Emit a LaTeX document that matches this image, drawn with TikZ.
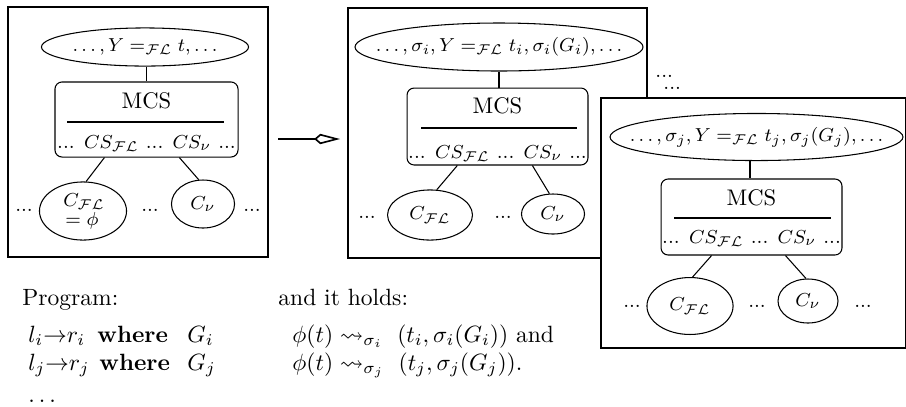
\documentclass[tikz,border=0pt]{standalone}
\usepackage{amssymb}
\usetikzlibrary{shapes.geometric,arrows.meta}
\tikzset{
  frame/.style={draw, line width=0.45pt, fill=white},
  oval/.style={draw, ellipse, inner sep=0pt, line width=0.45pt},
  mcsbox/.style={draw, rounded corners=3pt, inner sep=0pt, line width=0.45pt},
  lbl/.style={inner sep=0pt, font=\fontsize{8.4}{10}\selectfont},
  mcslbl/.style={inner sep=0pt, anchor=base, font=\fontsize{9.6}{11}\selectfont},
  txt/.style={inner sep=0pt, anchor=base west, font=\fontsize{10}{12}\selectfont},
  link/.style={line width=0.45pt},
  rulethin/.style={line width=0.45pt},
  rulethick/.style={line width=0.9pt},
}
\begin{document}
\begin{tikzpicture}[x=0.425pt,y=-0.425pt]
\useasboundingbox (0,0) rectangle (906,406);

% ---------- Box 1 ----------
\draw[frame] (8,7) rectangle (268,257);
\node[oval, minimum width=88pt, minimum height=16.2pt] (e1) at (145,47) {};
\node[lbl] at (e1) {$\ldots, Y =_{\mathcal{F}\mathcal{L}} t, \ldots$};
\node[mcsbox, minimum width=77.8pt, minimum height=31.9pt] (m1) at (146.5,119.5) {};
\node[mcslbl] at (146.5,108) {MCS};
\draw[rulethin] (67,122) -- (224,122);
\node[lbl, anchor=base] at (146.5,148) {... $CS_{\mathcal{F}\mathcal{L}}$ ... $CS_\nu$ ...};
\node[oval, minimum width=37pt, minimum height=24.7pt] (c1) at (83,211) {};
\node[lbl, anchor=base west] at (63,206) {$C_{\mathcal{F}\mathcal{L}}$};
\node[lbl, anchor=base west] at (65,225) {$=\phi$};
\node[oval, minimum width=26.8pt, minimum height=20.4pt] (v1) at (203,204) {};
\node[lbl] at (v1) {$C_\nu$};
\node[lbl] (d1a) at (24,210) {...};
\node[lbl] (d1b) at (150,210) {...};
\node[lbl] (d1c) at (252,210) {...};
\draw[link] (m1.north |- e1.south) -- (m1.north);
\draw[link] ([xshift=21.25pt]m1.south west) -- (c1.84);
\draw[link] ([xshift=53.1pt]m1.south west) -- (v1.100);

% ---------- Arrow ----------
\coordinate (a0) at (278,139);
\coordinate (a1) at (340,139);
\draw[line width=0.7pt, -{Kite[open, length=11pt, width=4.4pt, inset=2.6pt]}] (a0) -- (a1);

% ---------- Box 2 ----------
\draw[frame] (348,8) rectangle (647,258);
\node[oval, minimum width=122.4pt, minimum height=20.4pt] (e2) at (499,47) {};
\node[lbl] at (e2) {$\ldots, \sigma_i, Y =_{\mathcal{F}\mathcal{L}} t_i, \sigma_i(G_i), \ldots$};
\node[mcsbox, minimum width=76.9pt, minimum height=32.7pt] (m2) at (497.5,126.5) {};
\node[mcslbl] at (497.5,113) {MCS};
\draw[rulethick] (421,128) -- (577,128);
\node[lbl, anchor=base] at (497.5,158) {... $CS_{\mathcal{F}\mathcal{L}}$ ... $CS_\nu$ ...};
\node[oval, minimum width=36.1pt, minimum height=21.3pt] (c2) at (430,215) {};
\node[lbl] at (c2) {$C_{\mathcal{F}\mathcal{L}}$};
\node[oval, minimum width=26.8pt, minimum height=17pt] (v2) at (553,214) {};
\node[lbl] at (v2) {$C_\nu$};
\node[lbl] (d2a) at (367,217) {...};
\node[lbl] (d2b) at (503,217) {...};
\draw[link] (499,72) -- (m2.north -| 499,0);
\draw[link] ([xshift=21.6pt]m2.south west) -- (c2.75);
\draw[link] ([xshift=53.5pt]m2.south west) -- (v2.100);

% dots between boxes
\node[lbl, anchor=north west, align=left, font=\fontsize{8.4}{5.1}\selectfont] (g1) at (655,74.5) {...\\\hspace*{3.4pt}...};

% ---------- Box 3 ----------
\draw[frame] (601,98) rectangle (905.5,348);
\node[oval, minimum width=124.5pt, minimum height=20pt] (e3) at (756.5,137) {};
\node[lbl] at (e3) {$\ldots, \sigma_j, Y =_{\mathcal{F}\mathcal{L}} t_j, \sigma_j(G_j), \ldots$};
\node[mcsbox, minimum width=76.9pt, minimum height=32.3pt] (m3) at (751.5,217) {};
\node[mcslbl] at (751.5,205) {MCS};
\draw[rulethin] (674,218) -- (831,218);
\node[lbl, anchor=base] at (751.5,243) {... $CS_{\mathcal{F}\mathcal{L}}$ ... $CS_\nu$ ...};
\node[oval, minimum width=36.6pt, minimum height=24.2pt] (c3) at (690,306) {};
\node[lbl] at (c3) {$C_{\mathcal{F}\mathcal{L}}$};
\node[oval, minimum width=25.5pt, minimum height=18.7pt] (v3) at (808,301) {};
\node[lbl] at (v3) {$C_\nu$};
\node[lbl] (d3a) at (632,306) {...};
\node[lbl] (d3b) at (757,306) {...};
\node[lbl] (d3c) at (863,306) {...};
\draw[link] (750,161) -- (m3.north -| 750,0);
\draw[link] ([xshift=21.7pt]m3.south west) -- (c3.85);
\draw[link] ([xshift=53.1pt]m3.south west) -- (v3.95);

% ---------- Text below ----------
\node[txt] (p0) at (22,305) {Program:};
\node[txt] (h0) at (278,305) {and it holds:};
\node[txt] (p1) at (28,342) {$l_i{\rightarrow}r_i$};
\node[txt] (w1) at (97,342) {\textbf{where}};
\node[txt] (q1) at (187,342) {$G_i$};
\node[txt] (p2) at (28,370) {$l_j{\rightarrow}r_j$};
\node[txt] (w2) at (99,370) {\textbf{where}};
\node[txt] (q2) at (187,370) {$G_j$};
\node[txt] (p3) at (28,402) {$\ldots$};
\node[txt] (h1) at (292,342) {$\phi(t) \leadsto_{\sigma_i}\ (t_i,\sigma_i(G_i))$ and};
\node[txt] (h2) at (292,370) {$\phi(t) \leadsto_{\sigma_j}\ (t_j,\sigma_j(G_j))$.};
\end{tikzpicture}
\end{document}
